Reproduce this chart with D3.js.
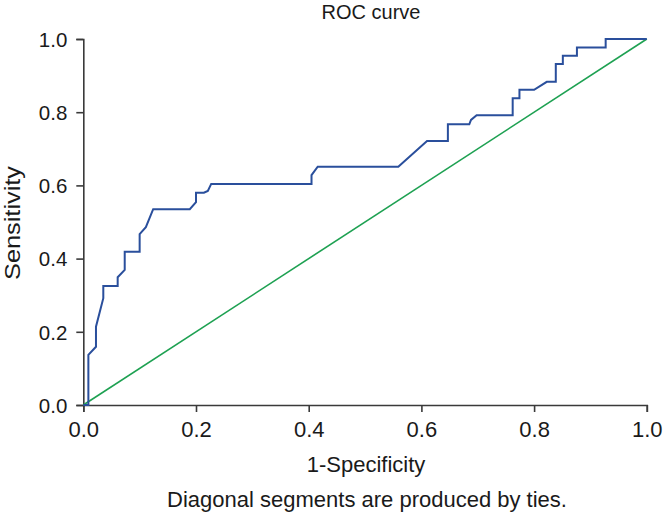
<!DOCTYPE html>
<html>
<head>
<meta charset="utf-8">
<script src="https://cdn.jsdelivr.net/npm/d3@7"></script>
<style>
  html, body { margin: 0; padding: 0; background: #fff; }
  svg { display: block; }
  text { font-family: "Liberation Sans", Arial, sans-serif; fill: #1a1a1a; }
</style>
</head>
<body>
<svg id="chart" width="664" height="514"></svg>
<script>
// ---- data ----
const fpr  = [0, 0.009, 0.009, 0.0225, 0.0225, 0.0355, 0.0355, 0.061, 0.061, 0.0735, 0.0735, 0.100, 0.100, 0.111, 0.124, 0.189, 0.200, 0.200, 0.214, 0.221, 0.227, 0.405, 0.405, 0.416, 0.559, 0.610, 0.647, 0.647, 0.685, 0.688, 0.698, 0.762, 0.762, 0.774, 0.774, 0.800, 0.8225, 0.8385, 0.8385, 0.851, 0.851, 0.876, 0.876, 0.927, 0.927, 1.0];
const sens = [0, 0, 0.137, 0.159, 0.214, 0.292, 0.325, 0.325, 0.349, 0.369, 0.419, 0.419, 0.467, 0.486, 0.535, 0.535, 0.554, 0.580, 0.580, 0.585, 0.604, 0.604, 0.628, 0.651, 0.651, 0.721, 0.721, 0.767, 0.767, 0.779, 0.792, 0.792, 0.838, 0.838, 0.861, 0.861, 0.883, 0.883, 0.932, 0.932, 0.954, 0.954, 0.977, 0.977, 1.0, 1.0];
const refX = [0, 1];
const refY = [0, 1];
const tickValues = [0, 0.2, 0.4, 0.6, 0.8, 1.0];
const titleText = "ROC curve";
const xLabel = "1-Specificity";
const yLabel = "Sensitivity";
const noteText = "Diagonal segments are produced by ties.";

// ---- layout ----
const svg = d3.select("#chart");
const x = d3.scaleLinear().domain([0, 1]).range([83.3, 646.8]);
const y = d3.scaleLinear().domain([0, 1]).range([405, 39]);
const axisColor = "#3a3a3a";

// axes
const xAxis = svg.append("g").attr("transform", `translate(0,${y(0)})`)
  .call(d3.axisBottom(x).tickValues(tickValues).tickFormat(d3.format(".1f")).tickSizeOuter(0).tickSize(7).tickPadding(9));
const yAxis = svg.append("g").attr("transform", `translate(${x(0)},0)`)
  .call(d3.axisLeft(y).tickValues(tickValues).tickFormat(d3.format(".1f")).tickSizeOuter(0).tickSize(7).tickPadding(9));
[xAxis, yAxis].forEach(g => {
  g.select(".domain").attr("stroke", axisColor).attr("stroke-width", 1.6);
  g.selectAll(".tick line").attr("stroke", axisColor).attr("stroke-width", 1.6);
  g.selectAll(".tick text").attr("font-family", "Liberation Sans, Arial, sans-serif").attr("fill", "#1a1a1a");
});
yAxis.selectAll(".tick text").attr("font-size", 20.5).attr("dy", "0.36em");
xAxis.selectAll(".tick text").attr("font-size", 22).attr("dy", "0.71em");

// reference line
const line = d3.line().x(d => x(d[0])).y(d => y(d[1]));
svg.append("path")
  .attr("d", line(refX.map((v, i) => [v, refY[i]])))
  .attr("fill", "none").attr("stroke", "#1ea152").attr("stroke-width", 1.6);

// ROC curve
svg.append("path")
  .attr("d", line(fpr.map((v, i) => [v, sens[i]])))
  .attr("fill", "none").attr("stroke", "#2a4f9c").attr("stroke-width", 2)
  .attr("stroke-linejoin", "miter");

// texts
svg.append("text").attr("x", 371).attr("y", 18.5).attr("text-anchor", "middle")
  .attr("font-size", 20).text(titleText);
svg.append("text").attr("x", 366).attr("y", 471.5).attr("text-anchor", "middle")
  .attr("font-size", 22).text(xLabel);
svg.append("text").attr("transform", "translate(19.5,223) rotate(-90)").attr("text-anchor", "middle")
  .attr("font-size", 22.5).attr("textLength", 114).attr("lengthAdjust", "spacingAndGlyphs").text(yLabel);
svg.append("text").attr("x", 367).attr("y", 507).attr("text-anchor", "middle")
  .attr("font-size", 22).text(noteText);
</script>
</body>
</html>
